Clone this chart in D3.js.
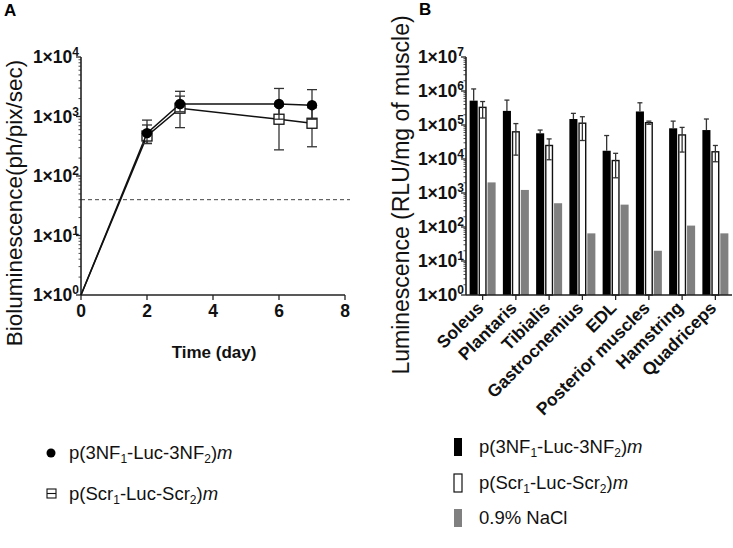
<!DOCTYPE html>
<html><head><meta charset="utf-8">
<script src="https://cdn.jsdelivr.net/npm/d3@7"></script>
<style>body{margin:0;background:#fff}svg{display:block}text{font-family:"Liberation Sans",Arial,sans-serif}</style>
</head><body>
<script>
// Panel A data
const days = [0, 2, 3, 6, 7];
const filledMean = [1, 525, 1620, 1620, 1550];
const filledUp = [null, 870, 2200, 2960, 2830];
const filledLo = [null, 350, 1200, 900, 900];
const openMean = [1, 470, 1380, 900, 770];
const openUp = [null, 720, 2650, 1500, 1400];
const openLo = [null, 355, 650, 275, 310];
const thresholdA = 40;
const xTicksA = [0, 2, 4, 6, 8];

// Panel B data
const muscles = ["Soleus","Plantaris","Tibialis","Gastrocnemius","EDL","Posterior muscles","Hamstring","Quadriceps"];
const seriesB = ["nf","scr","nacl"];
const nfMean = [5.2e5, 2.6e5, 5.7e4, 1.5e5, 1.75e4, 2.5e5, 8.0e4, 7.1e4];
const nfUp = [1.15e6, 5.4e5, 7.1e4, 2.2e5, 4.9e4, 4.5e5, 1.3e5, 1.5e5];
const scrMean = [3.3e5, 6.3e4, 2.5e4, 1.13e5, 9.0e3, 1.17e5, 5.1e4, 1.63e4];
const scrUp = [4.9e5, 1.1e5, 3.9e4, 1.75e5, 1.47e4, 1.3e5, 8.5e4, 2.5e4];
const scrLo = [1.6e5, 1.3e4, 9.5e3, 3.5e4, 2.8e3, 1.05e5, 1.6e4, 8.3e3];
const naclMean = [2050, 1230, 500, 65, 455, 20, 110, 65];

const W = 733, H = 548;
const svg = d3.select("body").append("svg").attr("width", W).attr("height", H);
const axisColor = "#222";

function powLabel(g, x, y, exp) {
  const t = g.append("text").attr("x", x).attr("y", y).attr("text-anchor", "end")
    .attr("font-size", 17.5).attr("font-weight", "bold").attr("fill", "#111");
  t.append("tspan").text("1×10");
  t.append("tspan").attr("dy", -7).attr("font-size", 12).text(exp);
}

function logAxis(g, y, x0, lo, hi) {
  g.append("line").attr("x1", x0).attr("x2", x0).attr("y1", y(hi)).attr("y2", y(lo))
    .attr("stroke", axisColor).attr("stroke-width", 1.6);
  y.ticks().forEach(v => {
    const e = Math.log10(v);
    const major = Math.abs(e - Math.round(e)) < 1e-9;
    g.append("line").attr("x1", x0 - (major ? 5 : 2.5)).attr("x2", x0)
      .attr("y1", y(v)).attr("y2", y(v)).attr("stroke", axisColor).attr("stroke-width", major ? 1.3 : 0.8);
    if (major) powLabel(g, x0 - 2, y(v) + 6, Math.round(e));
  });
}

// ---------------- Panel A ----------------
const gA = svg.append("g");
const xA = d3.scaleLinear().domain([0, 8]).range([81, 345]);
const yA = d3.scaleLog().domain([1, 1e4]).range([295, 57]);

gA.append("text").attr("x", 4).attr("y", 16).attr("font-size", 17).attr("font-weight", "bold").text("A");

gA.append("line").attr("x1", xA(0)).attr("x2", 350).attr("y1", yA(thresholdA)).attr("y2", yA(thresholdA))
  .attr("stroke", "#444").attr("stroke-width", 1).attr("stroke-dasharray", "4,3");

logAxis(gA, yA, xA(0), 1, 1e4);
gA.append("line").attr("x1", xA(0)).attr("x2", xA(8)).attr("y1", 295).attr("y2", 295)
  .attr("stroke", axisColor).attr("stroke-width", 1.6);
xTicksA.forEach(v => {
  gA.append("line").attr("x1", xA(v)).attr("x2", xA(v)).attr("y1", 295).attr("y2", 300)
    .attr("stroke", axisColor).attr("stroke-width", 1.3);
  gA.append("text").attr("x", xA(v)).attr("y", 317).attr("text-anchor", "middle")
    .attr("font-size", 17.5).attr("font-weight", "bold").attr("fill", "#111").text(v);
});

gA.append("text").attr("transform", `translate(22,203) rotate(-90)`).attr("text-anchor", "middle")
  .attr("font-size", 22.5).attr("fill", "#111").text("Bioluminescence(ph/pix/sec)");
gA.append("text").attr("x", 214).attr("y", 358).attr("text-anchor", "middle")
  .attr("font-size", 17).attr("font-weight", "bold").attr("fill", "#111").text("Time (day)");

function drawSeriesA(mean, up, lo, kind) {
  const pts = days.map((d, i) => ({d, m: mean[i], u: up[i], l: lo[i]}));
  gA.append("path").datum(pts)
    .attr("d", d3.line().x(p => xA(p.d)).y(p => yA(p.m)))
    .attr("fill", "none").attr("stroke", "#111").attr("stroke-width", 1.5);
  pts.filter(p => p.u != null).forEach(p => {
    const x = xA(p.d);
    gA.append("line").attr("x1", x).attr("x2", x).attr("y1", yA(p.u)).attr("y2", yA(p.l))
      .attr("stroke", "#333").attr("stroke-width", 1.3);
    [p.u, p.l].forEach(v => gA.append("line").attr("x1", x - 5).attr("x2", x + 5)
      .attr("y1", yA(v)).attr("y2", yA(v)).attr("stroke", "#333").attr("stroke-width", 1.3));
  });
  pts.filter(p => p.d > 0).forEach(p => {
    const x = xA(p.d), y = yA(p.m);
    if (kind === "filled") {
      gA.append("circle").attr("cx", x).attr("cy", y).attr("r", 5.2).attr("fill", "#000");
    } else {
      gA.append("rect").attr("x", x - 5).attr("y", y - 5).attr("width", 10).attr("height", 10)
        .attr("fill", "#fff").attr("stroke", "#111").attr("stroke-width", 1.3);
    }
  });
}
drawSeriesA(openMean, openUp, openLo, "open");
drawSeriesA(filledMean, filledUp, filledLo, "filled");

function legendLabel(g, x, y, parts) {
  const t = g.append("text").attr("x", x).attr("y", y).attr("font-size", 18.5).attr("fill", "#111");
  parts.forEach(p => {
    const s = t.append("tspan").text(p.t);
    if (p.sub) { s.attr("font-size", 12).attr("dy", 4); }
    if (p.back) { s.attr("dy", -4); }
    if (p.it) { s.attr("font-style", "italic"); }
  });
}
const labNF = [{t:"p(3NF"},{t:"1",sub:true},{t:"-Luc-3NF",back:true},{t:"2",sub:true},{t:")",back:true},{t:"m",it:true}];
const labScr = [{t:"p(Scr"},{t:"1",sub:true},{t:"-Luc-Scr",back:true},{t:"2",sub:true},{t:")",back:true},{t:"m",it:true}];

// Legend A
gA.append("circle").attr("cx", 51).attr("cy", 453).attr("r", 4.5).attr("fill", "#000");
legendLabel(gA, 69, 459, labNF);
gA.append("rect").attr("x", 47).attr("y", 489).attr("width", 9).attr("height", 9)
  .attr("fill", "#fff").attr("stroke", "#111").attr("stroke-width", 1.1);
gA.append("line").attr("x1", 47).attr("x2", 56).attr("y1", 493.5).attr("y2", 493.5).attr("stroke", "#111").attr("stroke-width", 1.1);
legendLabel(gA, 69, 500, labScr);

// ---------------- Panel B ----------------
const gB = svg.append("g");
const xB = d3.scaleBand().domain(muscles).range([466, 732]);
const xB1 = d3.scaleBand().domain(seriesB).range([0, 26]).paddingInner(0.1);
const yB = d3.scaleLog().domain([1, 1e7]).range([295, 57]);

gB.append("text").attr("x", 419).attr("y", 15).attr("font-size", 17).attr("font-weight", "bold").text("B");

const grp = muscles.map((m, i) => ({m, vals: [
  {k: "nf", v: nfMean[i], u: nfUp[i], l: null},
  {k: "scr", v: scrMean[i], u: scrUp[i], l: scrLo[i]},
  {k: "nacl", v: naclMean[i], u: null, l: null}
]}));

grp.forEach(g => {
  const cx = xB(g.m) + xB.bandwidth() / 2;
  const x0 = cx - 13;
  g.vals.forEach(d => {
    const bx = x0 + xB1(d.k), bw = xB1.bandwidth();
    const fill = d.k === "nf" ? "#000" : d.k === "scr" ? "#fff" : "#808080";
    const sw = d.k === "scr" ? 1.4 : 0;
    gB.append("rect").attr("x", bx + sw / 2).attr("y", yB(d.v)).attr("width", bw - sw)
      .attr("height", yB(1) - yB(d.v)).attr("fill", fill)
      .attr("stroke", d.k === "scr" ? "#111" : "none").attr("stroke-width", sw);
    if (d.u != null) {
      const ex = bx + bw / 2;
      const lowV = d.l != null ? d.l : d.v;
      gB.append("line").attr("x1", ex).attr("x2", ex).attr("y1", yB(d.u)).attr("y2", yB(lowV))
        .attr("stroke", "#333").attr("stroke-width", 1.3);
      gB.append("line").attr("x1", ex - 2.5).attr("x2", ex + 2.5).attr("y1", yB(d.u)).attr("y2", yB(d.u))
        .attr("stroke", "#333").attr("stroke-width", 1.3);
      if (d.l != null) gB.append("line").attr("x1", ex - 2.5).attr("x2", ex + 2.5).attr("y1", yB(d.l)).attr("y2", yB(d.l))
        .attr("stroke", "#333").attr("stroke-width", 1.3);
    }
  });
});

logAxis(gB, yB, 466, 1, 1e7);
gB.append("line").attr("x1", 466).attr("x2", 732).attr("y1", 295).attr("y2", 295)
  .attr("stroke", axisColor).attr("stroke-width", 1.6);
muscles.forEach(m => {
  const cx = xB(m) + xB.bandwidth() / 2;
  gB.append("line").attr("x1", cx).attr("x2", cx).attr("y1", 295).attr("y2", 300)
    .attr("stroke", axisColor).attr("stroke-width", 1.3);
  gB.append("text").attr("transform", `translate(${cx + 2},309) rotate(-45)`).attr("text-anchor", "end")
    .attr("font-size", 17.5).attr("font-weight", "bold").attr("fill", "#111").text(m);
});

gB.append("text").attr("transform", `translate(409,195) rotate(-90)`).attr("text-anchor", "middle")
  .attr("font-size", 23).attr("fill", "#111").text("Luminescence (RLU/mg of muscle)");

// Legend B
const legB = [{fill: "#000", stroke: "none", lab: labNF, y: 447},
              {fill: "#fff", stroke: "#111", lab: labScr, y: 483},
              {fill: "#808080", stroke: "none", lab: [{t: "0.9% NaCl"}], y: 518}];
legB.forEach(l => {
  gB.append("rect").attr("x", 454).attr("y", l.y - 9).attr("width", 8).attr("height", 18)
    .attr("fill", l.fill).attr("stroke", l.stroke).attr("stroke-width", 1.2);
  legendLabel(gB, 479, l.y + 6, l.lab);
});
</script>
</body></html>
